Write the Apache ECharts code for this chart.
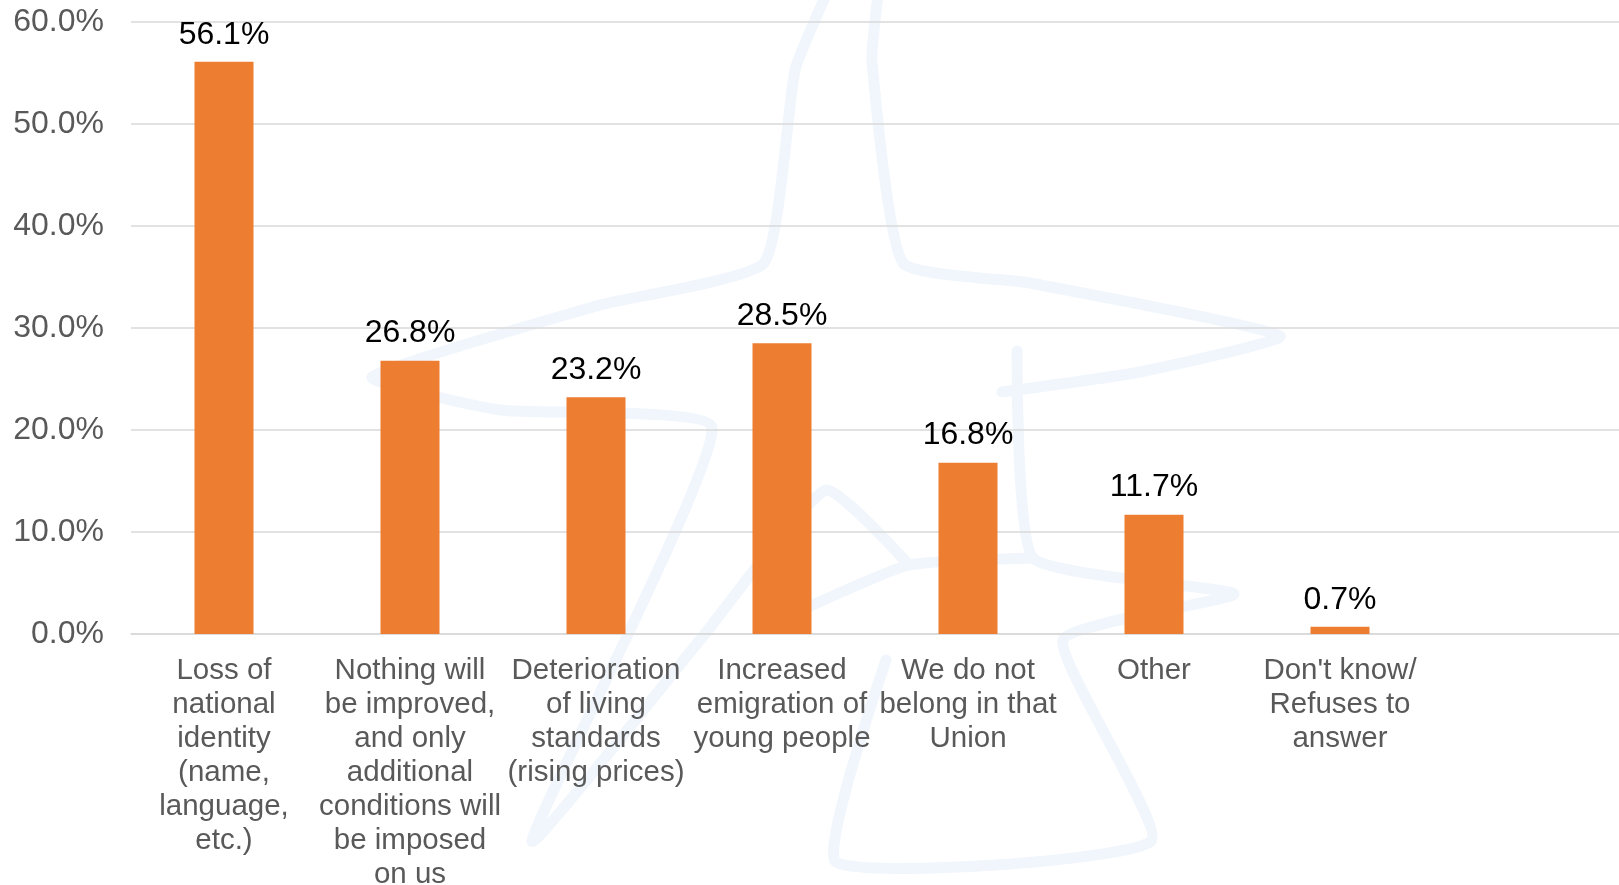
<!DOCTYPE html>
<html>
<head>
<meta charset="utf-8">
<script src="https://cdn.jsdelivr.net/npm/echarts@6/dist/echarts.min.js"></script>
<style>
html,body{margin:0;padding:0;background:#fff;}
#chart{width:1619px;height:885px;}
</style>
</head>
<body>
<div id="chart"></div>
<script>
const categories = [
  "Loss of\nnational\nidentity\n(name,\nlanguage,\netc.)",
  "Nothing will\nbe improved,\nand only\nadditional\nconditions will\nbe imposed\non us",
  "Deterioration\nof living\nstandards\n(rising prices)",
  "Increased\nemigration of\nyoung people",
  "We do not\nbelong in that\nUnion",
  "Other",
  "Don't know/\nRefuses to\nanswer",
  ""
];
const values = [56.1, 26.8, 23.2, 28.5, 16.8, 11.7, 0.7, null];
const yTicks = { min: 0, max: 60, interval: 10 };

const chart = echarts.init(document.getElementById('chart'));
const starColor = '#f1f6fc';
const starStyle = { stroke: starColor, lineWidth: 11, lineCap: 'round', lineJoin: 'round', fill: null };
chart.setOption({
  backgroundColor: '#ffffff',
  animation: false,
  graphic: [
    { type: 'polyline', z: -10, silent: true, shape: { smooth: 0.15, points: [[826,-5],[795,70],[764,263],[600,305],[372,377],[500,410],[712,428],[532,841],[700,640],[826,490],[909,565]] }, style: starStyle },
    { type: 'polyline', z: -10, silent: true, shape: { smooth: 0.15, points: [[878,-5],[872,62],[903,263],[1030,283],[1280,336],[1140,372],[1002,392]] }, style: starStyle },
    { type: 'polyline', z: -10, silent: true, shape: { smooth: 0.15, points: [[1017,351],[1033,558],[1234,594],[1063,640],[1151,841],[836,862],[886,660]] }, style: starStyle },
    { type: 'polyline', z: -10, silent: true, shape: { smooth: 0.15, points: [[806,608],[909,565],[1033,558]] }, style: starStyle }
  ],
  grid: { left: 131, right: 0, top: 22, bottom: 251, containLabel: false, outerBoundsMode: 'none' },
  xAxis: {
    type: 'category',
    data: categories,
    boundaryGap: true,
    axisLine: { show: true, lineStyle: { color: '#d9d9d9', width: 1.5 } },
    axisTick: { show: false },
    axisLabel: {
      interval: 0,
      margin: 20,
      color: '#595959',
      fontFamily: 'Liberation Sans, Arial, sans-serif',
      fontSize: 29.5,
      lineHeight: 34,
      align: 'center'
    }
  },
  yAxis: {
    type: 'value',
    min: yTicks.min,
    max: yTicks.max,
    interval: yTicks.interval,
    axisLine: { show: false },
    axisTick: { show: false },
    splitLine: { lineStyle: { color: '#d9d9d9', width: 1.5 } },
    axisLabel: {
      margin: 27,
      color: '#595959',
      fontFamily: 'Liberation Sans, Arial, sans-serif',
      fontSize: 32,
      formatter: v => v.toFixed(1) + '%'
    }
  },
  series: [{
    type: 'bar',
    data: values,
    barWidth: 59,
    itemStyle: { color: '#ED7D31' },
    label: {
      show: true,
      position: 'top',
      distance: 11,
      color: '#000000',
      fontFamily: 'Liberation Sans, Arial, sans-serif',
      fontSize: 32,
      formatter: p => p.value == null ? '' : p.value.toFixed(1) + '%'
    }
  }]
});
</script>
</body>
</html>
